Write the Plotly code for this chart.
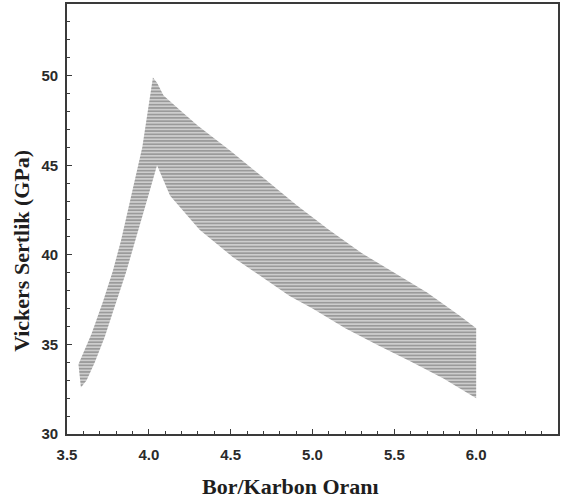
import plotly.graph_objects as go

# Upper bound of the hardness band (B/C ratio, GPa)
upper_ratio = [3.57, 3.60, 3.65, 3.72, 3.78, 3.83, 3.90, 3.96, 4.00, 4.025,
               4.05, 4.09, 4.20, 4.30, 4.50, 4.70, 4.90, 5.10, 5.30, 5.50,
               5.70, 5.90, 6.00]
upper_hv = [33.9, 34.5, 35.6, 37.4, 39.1, 40.8, 43.6, 46.0, 48.4, 49.9,
            49.6, 48.9, 48.0, 47.2, 45.8, 44.3, 42.8, 41.4, 40.1, 39.0,
            37.9, 36.6, 35.9]

# Lower bound of the hardness band
lower_ratio = [3.585, 3.62, 3.67, 3.73, 3.78, 3.86, 3.93, 4.00, 4.04, 4.05,
               4.13, 4.31, 4.51, 4.72, 4.86, 5.00, 5.20, 5.40, 5.60, 5.80, 6.00]
lower_hv = [32.6, 33.0, 34.0, 35.4, 36.8, 39.0, 41.2, 43.4, 44.7, 45.0,
            43.3, 41.4, 39.9, 38.6, 37.7, 37.0, 35.9, 34.95, 34.05, 33.1, 32.0]

x_ticks = [3.5, 4.0, 4.5, 5.0, 5.5, 6.0, 6.5]
y_ticks = [30, 35, 40, 45, 50]

band_x = upper_ratio + lower_ratio[::-1] + [upper_ratio[0]]
band_y = upper_hv + lower_hv[::-1] + [upper_hv[0]]

fig = go.Figure()
fig.add_trace(go.Scatter(
    x=band_x, y=band_y, mode="lines", fill="toself",
    line=dict(width=0, color="rgba(0,0,0,0)"),
    fillcolor="#a8a8a8",
    fillpattern=dict(shape="-", fgcolor="#676767", bgcolor="#cdcdcd",
                     size=3.3, solidity=0.5),
    hoverinfo="skip", showlegend=False,
))

axis_line = "#3a3a3a"
tick_font = dict(family="Liberation Sans, Arial", size=15, color="#2a2a2a",
                 weight="bold")

fig.update_xaxes(
    range=[3.5, 6.5], tickvals=x_ticks, ticktext=[f"{v:.1f}" for v in x_ticks],
    ticks="inside", ticklen=5, tickwidth=1.2, tickcolor=axis_line,
    minor=dict(dtick=0.1, ticks="inside", ticklen=3, tickwidth=1, tickcolor=axis_line),
    showline=True, linecolor=axis_line, linewidth=1.6, mirror=True,
    showgrid=False, zeroline=False,
    tickfont=tick_font, ticklabelstandoff=6,
)
fig.update_yaxes(
    range=[30, 54], tickvals=y_ticks, ticktext=[str(v) for v in y_ticks],
    ticks="inside", ticklen=5, tickwidth=1.2, tickcolor=axis_line,
    minor=dict(dtick=1, ticks="inside", ticklen=3, tickwidth=1, tickcolor=axis_line),
    showline=True, linecolor=axis_line, linewidth=1.6, mirror=True,
    showgrid=False, zeroline=False,
    tickfont=tick_font, ticklabelstandoff=4,
)

title_font = dict(family="Liberation Serif, Times New Roman", size=22, color="#1e1e1e")
fig.add_annotation(
    text="<b>Bor/Karbon Oranı</b>", xref="paper", yref="paper",
    x=(290 - 67) / 491, y=-(487 - 434) / 432, xanchor="center", yanchor="middle",
    showarrow=False, font=title_font,
)
fig.add_annotation(
    text="<b>Vickers Sertlik (GPa)</b>", xref="paper", yref="paper",
    x=-(67 - 22) / 491, y=(434 - 250) / 432, xanchor="center", yanchor="middle",
    textangle=-90, showarrow=False, font=title_font,
)

fig.update_layout(
    width=565, height=502,
    margin=dict(l=67, r=7, t=2, b=68),
    paper_bgcolor="white", plot_bgcolor="white",
)

fig.write_html("out.html")
